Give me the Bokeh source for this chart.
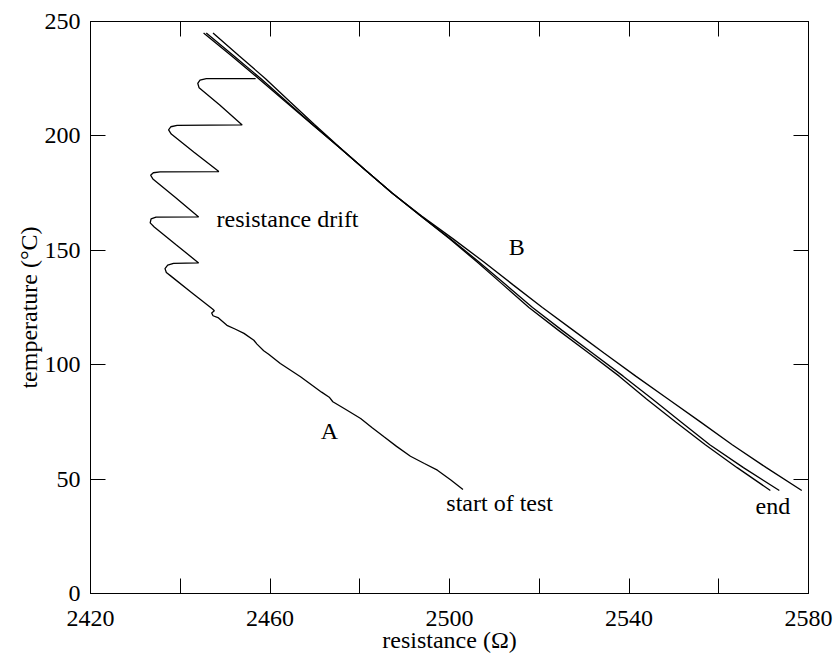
from bokeh.plotting import figure
from bokeh.models import LinearAxis, FixedTicker, Range1d, ColumnDataSource
from bokeh.core.properties import value
from bokeh.embed import file_html
from bokeh.resources import INLINE

FONT = "Liberation Serif"

# ---- axes / ticks ----
x_major = [2420, 2460, 2500, 2540, 2580]
x_minor = [2440, 2480, 2520, 2560]
y_major = [0, 50, 100, 150, 200, 250]

# ---- curve A (start of test -> resistance drift steps), resistance (ohm), temperature (C) ----
A_res = [2503.0, 2500.3, 2497.3, 2494.4, 2491.3, 2488.2, 2485.4, 2482.7, 2480.2, 2476.9,
         2474.0, 2473.2, 2471.5, 2466.8, 2462.3, 2459.7, 2458.6, 2457.1, 2456.4, 2454.2,
         2452.2, 2450.4, 2448.4, 2447.3, 2447.0, 2447.6, 2447.2, 2442.5, 2438.0, 2436.9,
         2436.6, 2437.2, 2438.5, 2444.1, 2439.0, 2434.2, 2433.3, 2433.5, 2434.6, 2444.1,
         2438.8, 2433.9, 2433.4, 2434.0, 2435.5, 2448.6, 2443.0, 2438.0, 2437.4, 2437.9,
         2439.3, 2453.8, 2448.8, 2444.2, 2443.9, 2444.4, 2445.8, 2456.8]
A_temp = [45.5, 49.6, 53.9, 56.8, 60.0, 64.3, 68.5, 72.6, 76.5, 80.4,
          83.8, 85.8, 88.0, 94.7, 100.5, 104.6, 106.1, 109.0, 110.7, 113.7,
          115.6, 117.2, 120.6, 121.4, 122.6, 123.6, 124.3, 131.6, 138.6, 140.3,
          142.0, 143.5, 144.3, 144.5, 152.5, 160.2, 162.0, 163.7, 164.5, 164.6,
          173.3, 181.2, 182.8, 183.9, 184.3, 184.4, 193.0, 200.8, 202.6, 204.0,
          204.6, 204.8, 213.5, 221.0, 223.0, 224.4, 225.0, 225.0]

# ---- curves B (three heating runs) ----
B_temp = [245, 235, 225, 215, 205, 195, 185, 175, 165, 155, 145, 135, 125, 115, 105, 95, 85, 75, 65, 55, 45]
B1_res = [2445.2, 2451.4, 2457.5, 2463.4, 2469.4, 2475.4, 2481.3, 2487.2, 2493.6, 2500.0, 2506.1,
          2511.9, 2517.7, 2524.3, 2531.1, 2537.8, 2543.9, 2550.4, 2557.0, 2564.1, 2571.5]
B2_res = [2445.8, 2451.9, 2458.0, 2463.7, 2469.5, 2475.4, 2481.3, 2487.2, 2493.6, 2500.2, 2506.5,
          2512.5, 2518.5, 2525.1, 2531.9, 2538.7, 2545.2, 2551.6, 2558.0, 2565.5, 2573.5]
B3_res = [2447.3, 2453.1, 2459.0, 2464.4, 2469.9, 2475.5, 2481.3, 2487.2, 2493.8, 2500.8, 2507.6,
          2514.1, 2520.7, 2527.6, 2534.5, 2541.5, 2548.7, 2555.9, 2563.0, 2570.6, 2578.5]

# ---- annotations ----
note_text = ["resistance drift", "A", "start of test", "B", "end"]
note_res = [2448.1, 2471.3, 2499.3, 2513.2, 2568.2]
note_temp = [163.8, 70.9, 39.5, 151.4, 38.3]

p = figure(width=835, height=655, x_range=Range1d(2420, 2580), y_range=Range1d(0, 250),
           output_backend="svg", toolbar_location=None,
           x_axis_location=None, y_axis_location=None,
           min_border_left=90, min_border_right=27, min_border_top=21, min_border_bottom=62)
p.grid.visible = False
p.outline_line_color = "black"
p.background_fill_color = "white"
p.border_fill_color = "white"


def style(ax, labels=True):
    ax.major_tick_in = 15
    ax.major_tick_out = 0
    ax.minor_tick_in = 15
    ax.minor_tick_out = 0
    ax.axis_line_color = "black"
    ax.major_tick_line_color = "black"
    ax.minor_tick_line_color = "black"
    ax.axis_line_width = 1
    ax.major_label_text_font = FONT
    if labels:
        ax.major_label_text_color = "black"
        ax.major_label_text_font_size = "24px"
        ax.axis_label_text_font = FONT
        ax.axis_label_text_font_size = "24px"
        ax.axis_label_text_font_style = "normal"
        ax.axis_label_text_color = "black"
    else:
        ax.major_label_text_color = None
        ax.major_label_text_font_size = "1px"
        ax.major_label_standoff = 0


xb = LinearAxis(ticker=FixedTicker(ticks=x_major, minor_ticks=x_minor))
style(xb)
xb.major_label_standoff = 17
xb.axis_label = "resistance (Ω)"
xb.axis_label_standoff = -2
p.add_layout(xb, "below")

xt = LinearAxis(ticker=FixedTicker(ticks=x_major, minor_ticks=x_minor))
style(xt, labels=False)
p.add_layout(xt, "above")

yl = LinearAxis(ticker=FixedTicker(ticks=y_major, minor_ticks=[]))
style(yl)
yl.major_label_standoff = 10
yl.axis_label = "temperature (°C)"
yl.axis_label_standoff = 0
p.add_layout(yl, "left")

yr = LinearAxis(ticker=FixedTicker(ticks=y_major, minor_ticks=[]))
style(yr, labels=False)
p.add_layout(yr, "right")

p.line(A_res, A_temp, line_color="black", line_width=1.3)
p.line(B1_res, B_temp, line_color="black", line_width=1.3)
p.line(B2_res, B_temp, line_color="black", line_width=1.3)
p.line(B3_res, B_temp, line_color="black", line_width=1.3)

src = ColumnDataSource(dict(x=note_res, y=note_temp, t=note_text))
p.text(x="x", y="y", text="t", source=src, text_font=value(FONT), text_font_size="24px",
       text_align="left", text_baseline="alphabetic", text_color="black")

open("out.html", "w").write(file_html(p, INLINE))
